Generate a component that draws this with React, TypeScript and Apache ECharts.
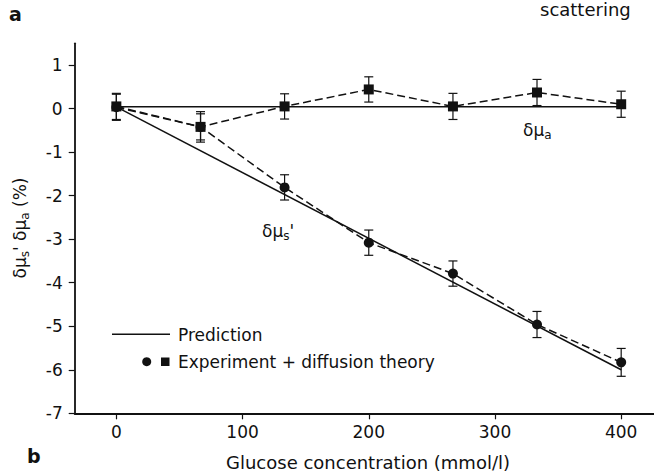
import React, { useEffect, useRef } from "react";
import * as echarts from "echarts";

const conc = [0, 66.7, 133.3, 200, 266.7, 333.3, 400];
const absorption = [0.05, -0.42, 0.05, 0.44, 0.05, 0.37, 0.1];
const absorptionErr = [0.3, 0.35, 0.29, 0.29, 0.3, 0.3, 0.3];
const scattering = [0.03, -0.42, -1.81, -3.08, -3.79, -4.96, -5.83];
const scatteringErr = [0.3, 0.3, 0.29, 0.29, 0.29, 0.3, 0.32];
const predictionX = [0, 400];
const predictionAbs = [0.04, 0.04];
const predictionScat = [0.04, -6.0];
const xTicks = [0, 100, 200, 300, 400];
const yTicks = [-7, -6, -5, -4, -3, -2, -1, 0, 1];

const FONT = "DejaVu Sans";
const INK = "#111";

function errorBars(values: number[], errs: number[]) {
  return {
    type: "custom",
    silent: true,
    clip: false,
    z: 3,
    data: conc.map((x, i) => [x, values[i], errs[i]]),
    encode: { x: 0, y: 1 },
    renderItem: (_p: any, api: any) => {
      const x = api.value(0);
      const y = api.value(1);
      const e = api.value(2);
      const a = api.coord([x, y + e]);
      const b = api.coord([x, y - e]);
      const w = 4.5;
      const st = { stroke: INK, lineWidth: 1.2 };
      return {
        type: "group",
        children: [
          { type: "line", shape: { x1: a[0], y1: a[1], x2: b[0], y2: b[1] }, style: st },
          { type: "line", shape: { x1: a[0] - w, y1: a[1], x2: a[0] + w, y2: a[1] }, style: st },
          { type: "line", shape: { x1: b[0] - w, y1: b[1], x2: b[0] + w, y2: b[1] }, style: st },
        ],
      };
    },
  };
}

const rich = {
  n: { fontSize: 17, fontFamily: FONT, fill: INK },
  s: { fontSize: 12, fontFamily: FONT, fill: INK, padding: [9, 0, 0, 0] },
};

export default function App() {
  const ref = useRef<HTMLDivElement>(null);
  useEffect(() => {
    if (!ref.current) return;
    const chart = echarts.init(ref.current, undefined, { renderer: "svg" });
    const option: any = {
      animation: false,
      backgroundColor: "#fff",
      grid: { left: 74.7, top: 43.3, right: 0, bottom: 61.7, containLabel: false },
      xAxis: {
        type: "value",
        min: -33,
        max: 426,
        axisLine: { show: true, onZero: false, lineStyle: { color: INK, width: 1.8 } },
        axisTick: { show: true, length: 6, customValues: xTicks, lineStyle: { color: INK, width: 1.2 } },
        axisLabel: { customValues: xTicks, margin: 10, fontFamily: FONT, fontSize: 17, color: INK },
        splitLine: { show: false },
      },
      yAxis: {
        type: "value",
        min: -7,
        max: 1.5,
        axisLine: { show: true, onZero: false, lineStyle: { color: INK, width: 1.8 } },
        axisTick: { show: true, length: 6, customValues: yTicks, lineStyle: { color: INK, width: 1.2 } },
        axisLabel: { customValues: yTicks, margin: 12, fontFamily: FONT, fontSize: 17, color: INK },
        splitLine: { show: false },
      },
      series: [
        {
          type: "line",
          data: predictionX.map((x, i) => [x, predictionAbs[i]]),
          symbol: "none",
          lineStyle: { color: INK, width: 1.5 },
          z: 2,
        },
        {
          type: "line",
          data: predictionX.map((x, i) => [x, predictionScat[i]]),
          symbol: "none",
          lineStyle: { color: INK, width: 1.5 },
          z: 2,
        },
        errorBars(absorption, absorptionErr),
        errorBars(scattering, scatteringErr),
        {
          type: "line",
          data: conc.map((x, i) => [x, scattering[i]]),
          symbol: "circle",
          symbolSize: 10,
          itemStyle: { color: INK },
          lineStyle: { color: INK, width: 1.5, type: [8, 4] },
          z: 4,
        },
        {
          type: "line",
          data: conc.map((x, i) => [x, absorption[i]]),
          symbol: "rect",
          symbolSize: 10,
          itemStyle: { color: INK },
          lineStyle: { color: INK, width: 1.5, type: [8, 4] },
          z: 5,
        },
      ],
      graphic: [
        {
          type: "text",
          x: 9,
          y: 4,
          style: { text: "a", font: `bold 19px "${FONT}"`, fill: INK },
        },
        {
          type: "text",
          x: 27,
          y: 446,
          style: { text: "b", font: `bold 19px "${FONT}"`, fill: INK },
        },
        {
          type: "text",
          x: 540,
          y: 0,
          style: { text: "scattering", font: `18px "${FONT}"`, fill: INK },
        },
        {
          type: "text",
          x: 368,
          y: 462,
          style: {
            text: "Glucose concentration (mmol/l)",
            font: `18px "${FONT}"`,
            fill: INK,
            align: "center",
            verticalAlign: "middle",
          },
        },
        {
          type: "text",
          x: 20,
          y: 228,
          rotation: Math.PI / 2,
          style: {
            text: "{n|δμ}{s|s}{n|' δμ}{s|a}{n| (%)}",
            rich,
            align: "center",
            verticalAlign: "middle",
          },
        },
        {
          type: "text",
          x: 262,
          y: 231,
          style: { text: "{n|δμ}{s|s}{n|'}", rich, verticalAlign: "middle" },
        },
        {
          type: "text",
          x: 523,
          y: 130,
          style: { text: "{n|δμ}{s|a}", rich, verticalAlign: "middle" },
        },
        {
          type: "line",
          shape: { x1: 112, y1: 334.3, x2: 170, y2: 334.3 },
          style: { stroke: INK, lineWidth: 1.5 },
        },
        {
          type: "text",
          x: 178,
          y: 335,
          style: { text: "Prediction", font: `17px "${FONT}"`, fill: INK, verticalAlign: "middle" },
        },
        {
          type: "circle",
          shape: { cx: 146.7, cy: 361.7, r: 4.5 },
          style: { fill: INK },
        },
        {
          type: "rect",
          shape: { x: 161, y: 357.5, width: 8.5, height: 8.5 },
          style: { fill: INK },
        },
        {
          type: "text",
          x: 178,
          y: 362,
          style: {
            text: "Experiment + diffusion theory",
            font: `17px "${FONT}"`,
            fill: INK,
            verticalAlign: "middle",
          },
        },
      ],
    };
    chart.setOption(option);
    return () => chart.dispose();
  }, []);
  return (
    <div
      ref={ref}
      style={{ position: "absolute", left: 0, top: 0, width: 654, height: 475, background: "#fff" }}
    />
  );
}
